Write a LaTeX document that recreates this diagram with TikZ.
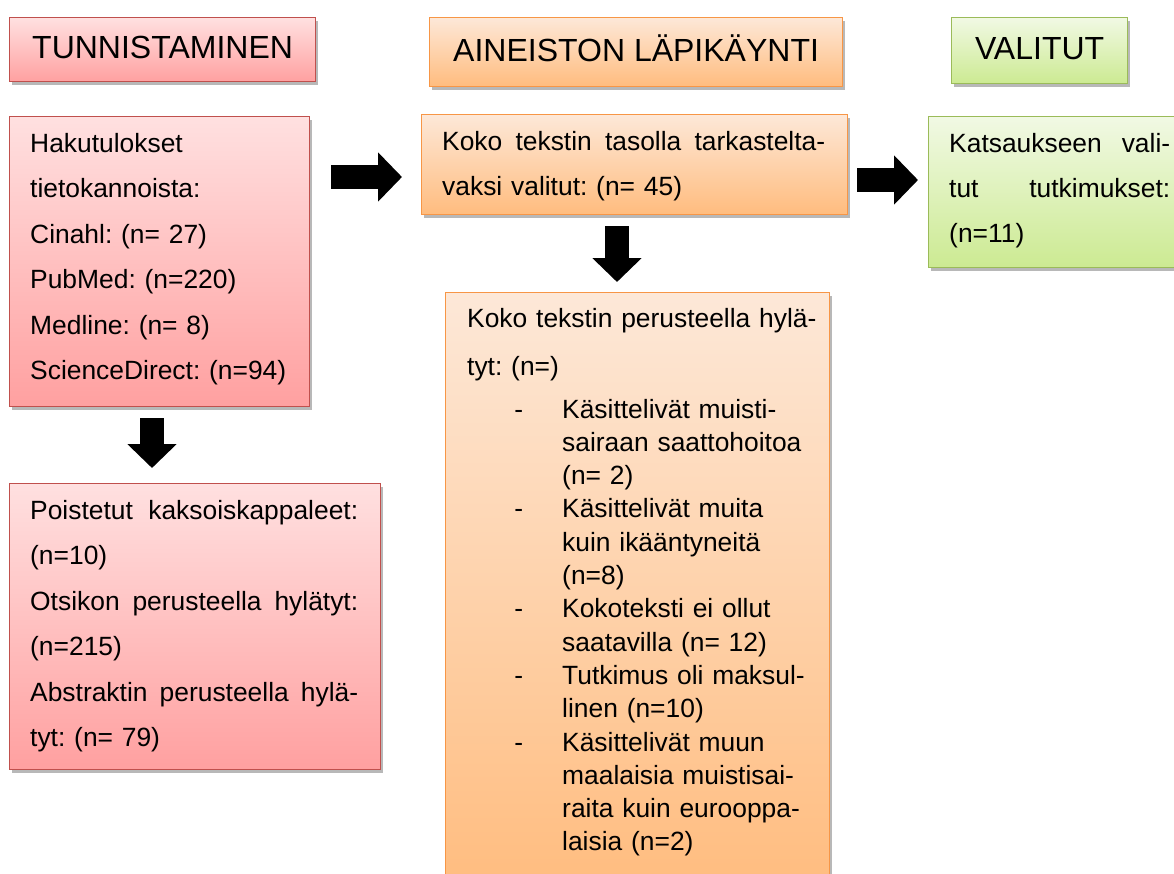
\documentclass[tikz,border=0pt]{standalone}
\usepackage{fontspec}
\setmainfont{Liberation Sans}
\usetikzlibrary{arrows.meta,calc,shadows}
\definecolor{redtop}{RGB}{255,224,224}
\definecolor{redbot}{RGB}{255,160,160}
\definecolor{redline}{RGB}{192,80,77}
\definecolor{orgtop}{RGB}{253,232,216}
\definecolor{orgbot}{RGB}{255,188,126}
\definecolor{orgline}{RGB}{247,150,70}
\definecolor{grntop}{RGB}{241,249,228}
\definecolor{grnbot}{RGB}{204,234,146}
\definecolor{grnline}{RGB}{155,187,89}
\frenchspacing
\newcommand{\jline}[2]{\leavevmode\hbox to #1{\spaceskip=0.278em plus 1fil\relax #2}}
\newcommand{\dashmark}{\leavevmode\llap{-\hspace{39pt}}}
\tikzset{
  figbox/.style={draw, line width=1.2pt, inner sep=0pt, anchor=north west,
    drop shadow={shadow xshift=2pt, shadow yshift=-3pt, fill=black, opacity=0.28}},
  redbox/.style={figbox, draw=redline, top color=redtop, bottom color=redbot},
  orgbox/.style={figbox, draw=orgline, top color=orgtop, bottom color=orgbot},
  grnbox/.style={figbox, draw=grnline, top color=grntop, bottom color=grnbot},
  headbox/.style={font={\fontsize{32pt}{38pt}\selectfont}, text height=23pt, text depth=5pt},
  figtext/.style={anchor=base west, inner sep=0pt, align=left,
    font={\fontsize{26.4pt}{45.5pt}\selectfont}},
  figarrow/.style={line width=24pt, -{Triangle[length=24pt,width=48pt]}},
}
\begin{document}
\begin{tikzpicture}[x=1pt,y=-1pt]
  \path[fill=white, use as bounding box] (0,0) rectangle (1174,873);
  \node[redbox, headbox, minimum width=306pt, minimum height=64pt] (tunhead) at (9,17) {TUNNISTAMINEN};
  \node[orgbox, headbox, minimum width=413pt, minimum height=69pt] (ainhead) at (429,17) {AINEISTON LÄPIKÄYNTI};
  \node[grnbox, headbox, minimum width=176pt, minimum height=66pt] (valhead) at (951,17) {VALITUT};
  \node[redbox, minimum width=300pt, minimum height=290pt] (haku) at (9,116) {};
  \node[figtext, text width=270pt] at ($(haku.north west)+(21,36)$) {Hakutulokset\\tietokannoista:\\Cinahl: (n= 27)\\PubMed: (n=220)\\Medline: (n= 8)\\ScienceDirect: (n=94)};
  \node[redbox, minimum width=371pt, minimum height=286pt] (poist) at (9,483) {};
  \node[figtext, text width=330pt] at ($(poist.north west)+(21,36)$) {\jline{328pt}{Poistetut kaksoiskappaleet:}\\(n=10)\\\jline{328pt}{Otsikon perusteella hylätyt:}\\(n=215)\\\jline{328pt}{Abstraktin perusteella hylä-}\\tyt: (n= 79)};
  \node[orgbox, minimum width=426pt, minimum height=100pt] (koko) at (421,114) {};
  \node[figtext, text width=385pt, font={\fontsize{26.4pt}{45pt}\selectfont}] at ($(koko.north west)+(21,36)$) {\jline{383pt}{Koko tekstin tasolla tarkastelta-}\\vaksi valitut: (n= 45)};
  \node[orgbox, minimum width=384pt, minimum height=600pt] (hylk) at (445,292) {};
  \node[figtext, text width=350pt, font={\fontsize{26.4pt}{48pt}\selectfont}] at ($(hylk.north west)+(22,35)$) {Koko tekstin perusteella hylä-\\tyt: (n=)};
  \node[figtext, text width=260pt, font={\fontsize{26.4pt}{33.3pt}\selectfont}] at ($(hylk.north west)+(117,126)$) {\dashmark Käsittelivät muisti-\\sairaan saattohoitoa\\(n= 2)\\\dashmark Käsittelivät muita\\kuin ikääntyneitä\\(n=8)\\\dashmark Kokoteksti ei ollut\\saatavilla (n= 12)\\\dashmark Tutkimus oli maksul-\\linen (n=10)\\\dashmark Käsittelivät muun\\maalaisia muistisai-\\raita kuin eurooppa-\\laisia (n=2)};
  \node[grnbox, minimum width=260pt, minimum height=151pt] (kats) at (928,116) {};
  \node[figtext, text width=223pt, font={\fontsize{26.4pt}{45pt}\selectfont}] at ($(kats.north west)+(21,36)$) {\jline{221pt}{Katsaukseen vali-}\\\jline{221pt}{tut tutkimukset:}\\(n=11)};
  \coordinate (downa) at (152,0);
  \coordinate (downb) at (617,0);
  \coordinate (righta) at (0,177);
  \coordinate (rightb) at (0,180);
  \draw[figarrow, shorten <=11pt, shorten >=15pt] (haku.south -| downa) -- (poist.north -| downa);
  \draw[figarrow, shorten <=21pt, shorten >=19pt] (haku.east |- righta) -- (koko.west |- righta);
  \draw[figarrow, shorten <=11pt, shorten >=10pt] (koko.south -| downb) -- (hylk.north -| downb);
  \draw[figarrow, shorten <=9pt, shorten >=10pt] (koko.east |- rightb) -- (kats.west |- rightb);
\end{tikzpicture}
\end{document}
